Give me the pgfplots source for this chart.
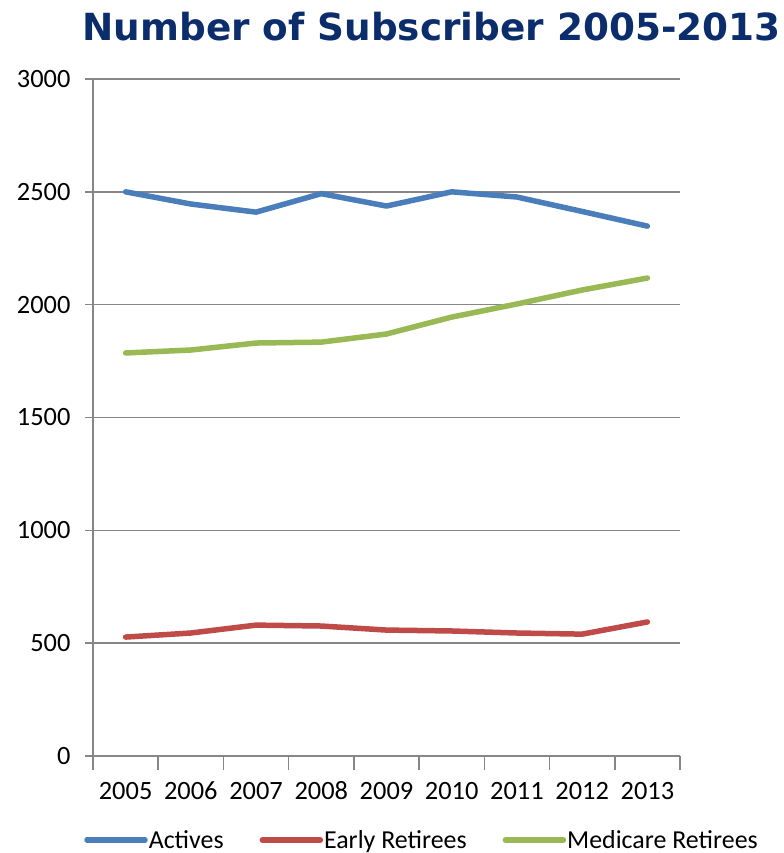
\documentclass[border=0pt]{standalone}
\usepackage{fontspec}
\setmainfont{Carlito}
\newfontfamily\titlefont{DejaVu Sans}
\usepackage{pgfplots}
\pgfplotsset{compat=1.18}
\definecolor{actc}{HTML}{4A7EBB}
\definecolor{earc}{HTML}{BE4B48}
\definecolor{medc}{HTML}{98B954}
\definecolor{gridc}{HTML}{868686}
\definecolor{titc}{HTML}{0B2D6B}
\begin{document}
\begin{tikzpicture}
\path[use as bounding box] (-93bp,-97bp) rectangle (691bp,756bp);
\begin{axis}[
  at={(0,0)}, anchor=south west,
  scale only axis, width=587bp, height=677bp,
  xmin=-0.5, xmax=8.5, ymin=0, ymax=3000,
  xtick={0,1,2,3,4,5,6,7,8},
  xticklabels={2005,2006,2007,2008,2009,2010,2011,2012,2013},
  minor xtick={-0.5,0.5,1.5,2.5,3.5,4.5,5.5,6.5,7.5,8.5},
  ytick={0,500,1000,1500,2000,2500,3000},
  axis x line*=bottom, axis y line*=left,
  axis line style={-, gridc, line width=1.5bp},
  ymajorgrids, major grid style={gridc, line width=1.5bp},
  tick align=outside,
  major tick length=8bp, minor tick length=14bp,
  tick style={gridc, line width=1.5bp},
  major x tick style={draw=none},
  ticklabel style={font=\fontsize{26.5}{26.5}\selectfont, text=black},
  xticklabel style={text height=0.64em, text depth=0pt, yshift=-26bp},
  yticklabel style={xshift=-11bp},
  /pgf/number format/assume math mode=true,
  /pgf/number format/set thousands separator={},
  title={Number of Subscriber 2005-2013},
  title style={font=\titlefont\bfseries\fontsize{37.5}{37.5}\selectfont, text=titc, at={(0.5,1)}, anchor=base, yshift=33bp, xshift=45bp},
  legend style={at={(0.5,0)}, anchor=north, xshift=35bp, yshift=-70bp, draw=none, fill=none, legend columns=3, font=\fontsize{26}{26}\selectfont, nodes={inner xsep=1bp}, /tikz/every even column/.append style={column sep=35bp}},
  legend image code/.code={\draw[#1] (0bp,0bp) -- (58bp,0bp);},
]
\addplot[actc, line width=5.5bp, line join=round, line cap=round] coordinates {
(0,2500) (1,2446) (2,2410) (3,2492) (4,2437) (5,2500) (6,2477) (7,2413) (8,2348)};
\addlegendentry{Actives}
\addplot[earc, line width=5.5bp, line join=round, line cap=round] coordinates {
(0,527) (1,545) (2,580) (3,576) (4,558) (5,554) (6,545) (7,540) (8,594)};
\addlegendentry{Early Retirees}
\addplot[medc, line width=5.5bp, line join=round, line cap=round] coordinates {
(0,1786) (1,1799) (2,1830) (3,1834) (4,1870) (5,1945) (6,2003) (7,2065) (8,2118)};
\addlegendentry{Medicare Retirees}
\end{axis}
\end{tikzpicture}
\end{document}
